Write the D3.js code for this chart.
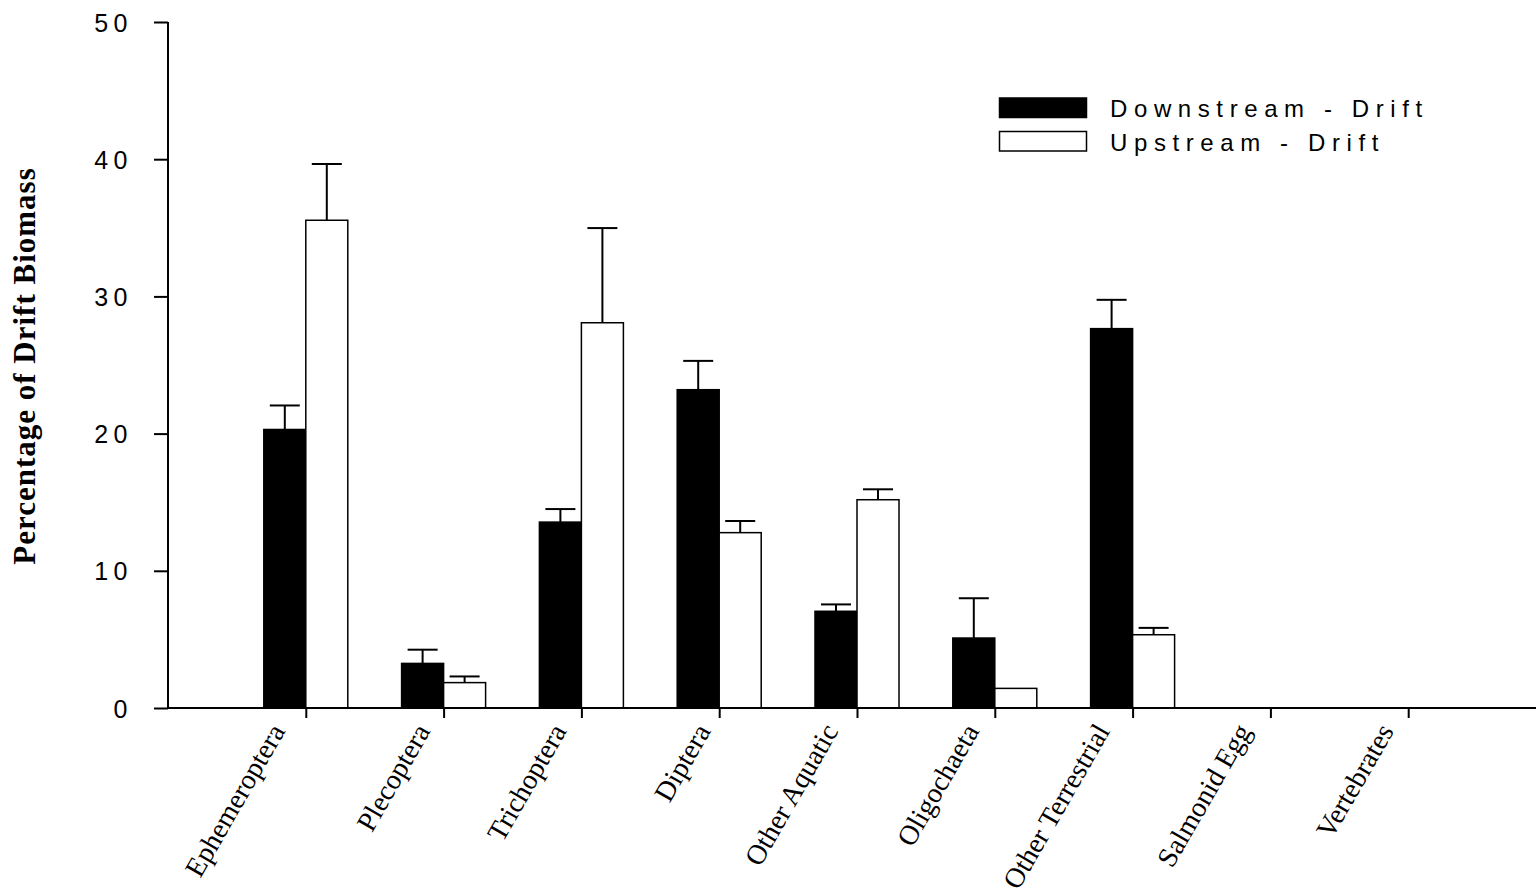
<!DOCTYPE html>
<html>
<head>
<meta charset="utf-8">
<script src="https://cdn.jsdelivr.net/npm/d3@7"></script>
<style>
  html, body { margin: 0; padding: 0; background: #fff; }
  svg { display: block; }
</style>
</head>
<body>
<svg id="chart" width="1536" height="893"></svg>
<script>
const categories = ["Ephemeroptera", "Plecoptera", "Trichoptera", "Diptera", "Other Aquatic",
                    "Oligochaeta", "Other Terrestrial", "Salmonid Egg", "Vertebrates"];
const downstream    = [20.3, 3.25, 13.55, 23.2, 7.05, 5.1, 27.65, 0, 0];
const downstreamErr = [1.75, 1.0, 0.95, 2.1, 0.5, 2.9, 2.1, 0, 0];
const upstream      = [35.55, 1.85, 28.08, 12.78, 15.18, 1.43, 5.34, 0, 0];
const upstreamErr   = [4.1, 0.45, 6.9, 0.85, 0.76, 0, 0.5, 0, 0];
const yTicks = [0, 10, 20, 30, 40, 50];
const seriesNames = ["Downstream - Drift", "Upstream - Drift"];
const yTitle = "Percentage of Drift Biomass";

(function () {
const svg = d3.select("#chart");
const mLeft = 168, mBottom = 708, mTop = 22, step = 137.8;

const x = d3.scalePoint().domain(categories).range([mLeft, mLeft + step * 10]).padding(1);
const y = d3.scaleLinear().domain([0, 50]).range([mBottom, mTop]);
const barW = 42;

const series = [
  { name: seriesNames[0], values: downstream, errs: downstreamErr, fill: "#000", off: -barW },
  { name: seriesNames[1], values: upstream, errs: upstreamErr, fill: "#fff", off: 0 }
];

// bars
series.forEach(s => {
  const data = categories.map((c, i) => ({ c, v: s.values[i], e: s.errs[i] })).filter(d => d.v > 0);
  const g = svg.append("g");
  g.selectAll("rect").data(data).join("rect")
    .attr("x", d => x(d.c) + s.off)
    .attr("y", d => y(d.v))
    .attr("width", barW)
    .attr("height", d => y(0) - y(d.v))
    .attr("fill", s.fill)
    .attr("stroke", "#000")
    .attr("stroke-width", 1.5);
  const eg = g.selectAll("g.err").data(data.filter(d => d.e > 0)).join("g").attr("class", "err")
    .attr("stroke", "#000").attr("stroke-width", 2);
  eg.append("line")
    .attr("x1", d => x(d.c) + s.off + barW / 2).attr("x2", d => x(d.c) + s.off + barW / 2)
    .attr("y1", d => y(d.v)).attr("y2", d => y(d.v + d.e));
  eg.append("line")
    .attr("x1", d => x(d.c) + s.off + barW / 2 - 15).attr("x2", d => x(d.c) + s.off + barW / 2 + 15)
    .attr("y1", d => y(d.v + d.e)).attr("y2", d => y(d.v + d.e));
});

// y axis
const yAxis = d3.axisLeft(y).tickValues(yTicks).tickSize(14).tickSizeOuter(0).tickFormat(d3.format("d"));
const gy = svg.append("g").attr("transform", `translate(${mLeft},0)`).call(yAxis);
gy.select(".domain").attr("stroke-width", 2).attr("d", `M0,${mTop}V${mBottom}`);
gy.selectAll(".tick line").attr("stroke-width", 2);
gy.selectAll(".tick text")
  .attr("x", -35)
  .attr("dy", "0.36em")
  .style("font-family", "'Liberation Sans', Arial, sans-serif")
  .style("font-size", "25px")
  .style("letter-spacing", "5.5px")
  .attr("fill", "#000");

// x axis
const xAxis = d3.axisBottom(x).tickSize(10).tickSizeOuter(0).tickFormat("");
const gx = svg.append("g").attr("transform", `translate(0,${mBottom})`).call(xAxis);
gx.select(".domain").attr("stroke-width", 2).attr("d", `M${mLeft - 1},0H1536`);
gx.selectAll(".tick line").attr("stroke-width", 2);

// x labels (rotated)
const lab = svg.append("g").selectAll("text").data(categories).join("text")
  .text(d => d)
  .attr("text-anchor", "end")
  .style("font-family", "'Liberation Serif', 'Times New Roman', serif")
  .style("font-size", "28px")
  .attr("fill", "#000");
lab.each(function(d) {
  const L = this.getComputedTextLength();
  const ex = x(d) + 4 - 0.14 * L;
  d3.select(this).attr("transform", `translate(${ex},731) rotate(-60)`);
});

// y title
svg.append("text")
  .attr("transform", `translate(35,366) rotate(-90)`)
  .attr("text-anchor", "middle")
  .style("font-family", "'Liberation Serif', 'Times New Roman', serif")
  .style("font-size", "31px")
  .style("font-weight", "bold")
  .style("letter-spacing", "1px")
  .text(yTitle);

// legend
const lg = svg.append("g");
series.forEach((s, i) => {
  lg.append("rect")
    .attr("x", 999.5).attr("y", 98 + i * 33.5)
    .attr("width", 87).attr("height", 19.5)
    .attr("fill", s.fill).attr("stroke", "#000").attr("stroke-width", 1.5);
  lg.append("text")
    .attr("x", 1110).attr("y", 117 + i * 34)
    .style("font-family", "'Liberation Sans', Arial, sans-serif")
    .style("font-size", "24px")
    .style("letter-spacing", "6.6px")
    .attr("fill", "#000")
    .text(s.name);
});
})();
</script>
</body>
</html>
